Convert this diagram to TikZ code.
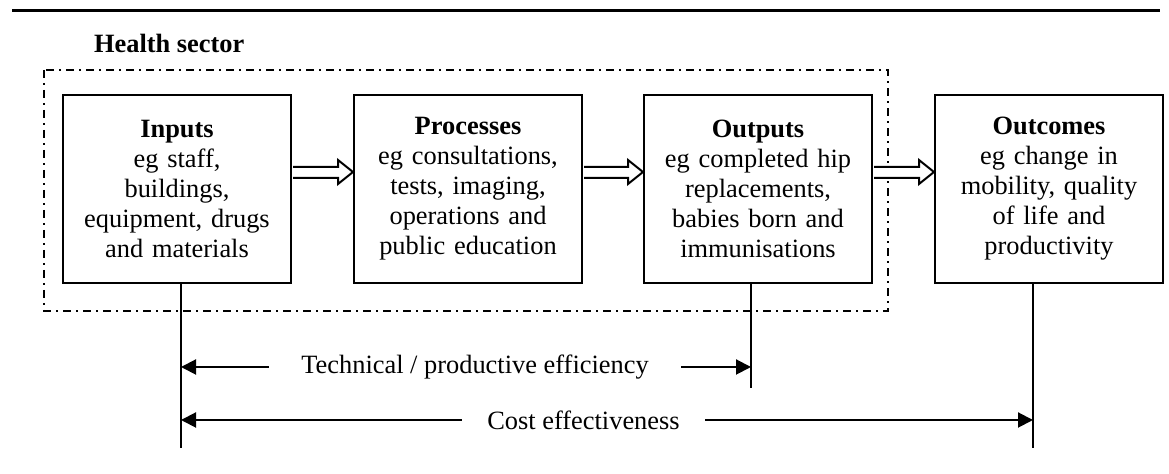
\documentclass[tikz,border=0pt]{standalone}
\usepackage{fontspec}
\setmainfont{Liberation Serif}
\usepackage{tikz}
\usetikzlibrary{positioning}
\usetikzlibrary{calc}
\usetikzlibrary{arrows.meta}
\tikzset{every node/.style={font=\fontsize{13.2}{15}\selectfont},
 box/.style={draw,line width=1pt,minimum width=114pt,minimum height=94pt,
  text width=104pt,align=center,inner sep=0pt},
 hollow/.style={draw,fill=white,line width=1pt,line join=miter},
 sector/.style={line width=0.8pt,dash pattern=on 4pt off 2.5pt on 1pt off 2.5pt},
 dimline/.style={line width=1pt,-{Triangle[length=7.5pt,width=7.5pt]}},
 rule/.style={line width=1.5pt},
 }

\begin{document}
\begin{tikzpicture}[x=0.5pt,y=-0.5pt]
    \useasboundingbox (0,0) rectangle (1169,474);
    \draw[rule] (12,11) -- (1160,11);
    \node[anchor=base west] (sec) at (87,53) {\textbf{Health sector}};
    \draw[sector] (44,70) rectangle (888,311);
    % the four stages
    \node[box] (inp) at (177,189)
        {\textbf{Inputs}\\eg staff,\\buildings,\\equipment, drugs\\and materials};
    \node[box,right=30.5pt of inp] (pro)
        {\textbf{Processes}\\eg consultations,\\tests, imaging,\\operations and\\public education};
    \node[box,right=30pt of pro] (out)
        {\textbf{Outputs}\\eg completed hip\\replacements,\\babies born and\\immunisations};
    \node[box,right=30.5pt of out] (ocm)
        {\textbf{Outcomes}\\eg change in\\mobility, quality\\of life and\\productivity};
    \foreach \a/\b in {inp/pro,pro/out,out/ocm}
        \draw[hollow] ($(\a.east)+(1,-22)$) -- ($(\b.west)+(-15,-22)$)
            -- ($(\b.west)+(-15,-29)$) -- ($(\b.west)+(0,-17)$)
            -- ($(\b.west)+(-15,-5)$) -- ($(\b.west)+(-15,-11)$)
            -- ($(\a.east)+(1,-11)$);
    % efficiency measures
    \coordinate (inpfoot) at (181,448);
    \coordinate (outfoot) at (751,388);
    \coordinate (ocmfoot) at (1033,448);
    \draw[line width=1pt] (inp.south -| inpfoot) -- (inpfoot);
    \draw[line width=1pt] (out.south -| outfoot) -- (outfoot);
    \draw[line width=1pt] (ocm.south -| ocmfoot) -- (ocmfoot);
    \node[inner xsep=16pt] (tech) at (475,367) {Technical / productive efficiency};
    \node[inner xsep=12.5pt] (cost) at (583.5,420) {Cost effectiveness};
    \draw[dimline] (tech.west) -- (tech.west -| inpfoot);
    \draw[dimline] (tech.east) -- (tech.east -| outfoot);
    \draw[dimline] (cost.west) -- (cost.west -| inpfoot);
    \draw[dimline] (cost.east) -- (cost.east -| ocmfoot);
\end{tikzpicture}
\end{document}
